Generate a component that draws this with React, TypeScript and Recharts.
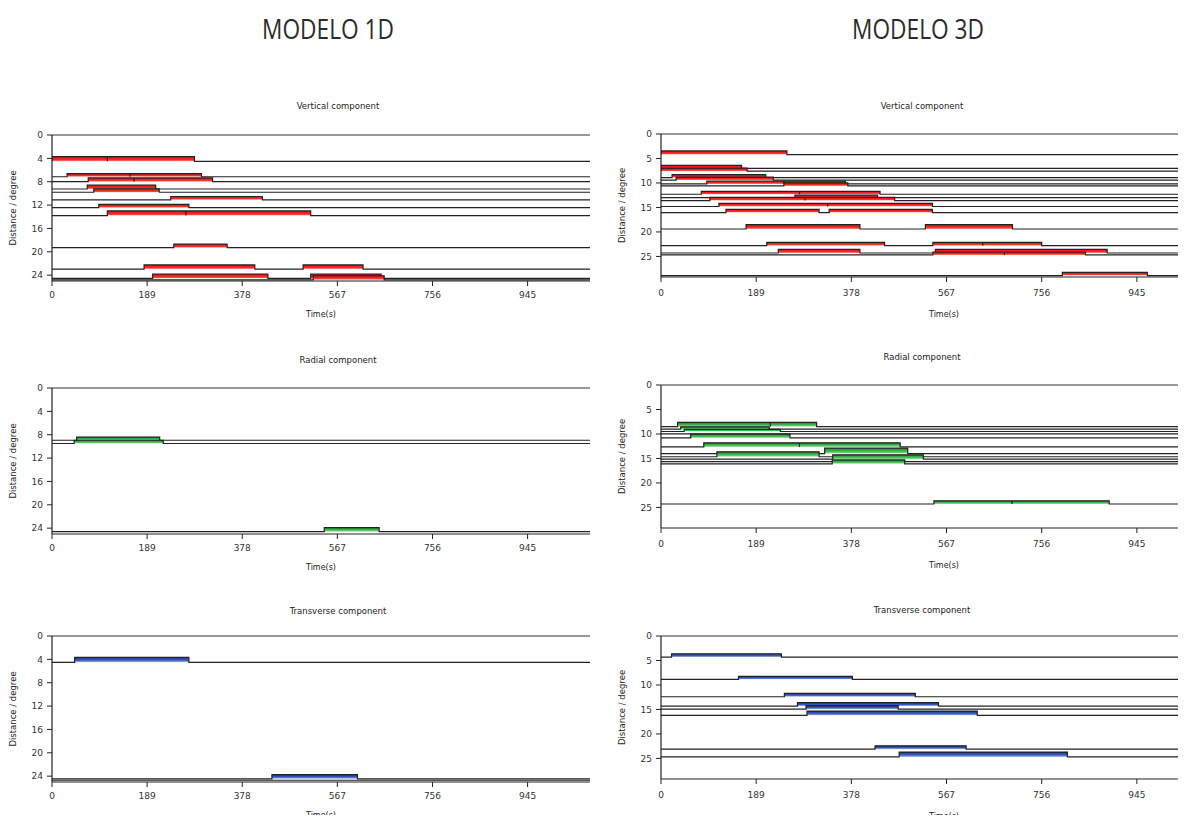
import { ComposedChart, Area, XAxis, YAxis, ReferenceLine } from "recharts";

const FONT = "'DejaVu Sans', Verdana, sans-serif";

const TIME_TICKS = [0, 189, 378, 567, 756, 945];
const DIST_TICKS_1D = [0, 4, 8, 12, 16, 20, 24];
const DIST_TICKS_3D = [0, 5, 10, 15, 20, 25];

// one trace per station: distance (deg) and its pulses [start s, end s, height deg]
type Trace = { d: number; p: number[][] };

const vertical1D: Trace[] = [
  { d: 4.5, p: [[0, 110, 0.8], [110, 283, 0.8]] },
  { d: 7.15, p: [[30, 155, 0.55], [155, 297, 0.55]] },
  { d: 8.0, p: [[72, 163, 0.65], [163, 319, 0.65]] },
  { d: 9.25, p: [[70, 206, 0.65]] },
  { d: 9.8, p: [[83, 213, 0.6]] },
  { d: 11.1, p: [[236, 418, 0.57]] },
  { d: 12.45, p: [[93, 272, 0.57]] },
  { d: 13.8, p: [[110, 266, 0.8], [266, 514, 0.8]] },
  { d: 19.3, p: [[242, 348, 0.6]] },
  { d: 22.95, p: [[183, 403, 0.7], [499, 618, 0.7]] },
  { d: 24.55, p: [[200, 429, 0.75], [514, 654, 0.75]] },
  { d: 24.8, p: [[519, 660, 0.7]] },
];

const vertical3D: Trace[] = [
  { d: 4.2, p: [[0, 250, 0.75]] },
  { d: 7.0, p: [[0, 160, 0.6]] },
  { d: 7.6, p: [[0, 171, 0.65]] },
  { d: 8.9, p: [[22, 208, 0.6]] },
  { d: 9.4, p: [[30, 223, 0.6]] },
  { d: 10.2, p: [[91, 244, 0.6], [244, 366, 0.6]] },
  { d: 10.6, p: [[244, 371, 0.6]] },
  { d: 12.3, p: [[80, 275, 0.6], [275, 435, 0.6]] },
  { d: 13.0, p: [[266, 430, 0.5]] },
  { d: 13.6, p: [[97, 286, 0.65], [286, 464, 0.65]] },
  { d: 14.8, p: [[115, 331, 0.65], [331, 539, 0.65]] },
  { d: 16.05, p: [[129, 314, 0.65], [334, 539, 0.65]] },
  { d: 19.4, p: [[169, 395, 0.9], [525, 698, 0.9]] },
  { d: 22.8, p: [[210, 444, 0.65], [540, 639, 0.65], [639, 756, 0.65]] },
  { d: 24.3, p: [[233, 395, 0.75], [545, 886, 0.75]] },
  { d: 24.7, p: [[540, 682, 0.6], [682, 843, 0.6]] },
  { d: 28.9, p: [[797, 966, 0.65]] },
];

const radial1D: Trace[] = [
  { d: 8.95, p: [[49, 214, 0.55]] },
  { d: 9.5, p: [[44, 221, 0.55]] },
  { d: 24.6, p: [[541, 650, 0.7]] },
];

const radial3D: Trace[] = [
  { d: 8.5, p: [[33, 217, 0.85], [217, 309, 0.85]] },
  { d: 9.0, p: [[39, 215, 0.45]] },
  { d: 9.5, p: [[46, 237, 0.45]] },
  { d: 10.0, p: [] },
  { d: 10.8, p: [[59, 256, 0.75]] },
  { d: 12.65, p: [[85, 275, 0.85], [275, 475, 0.85]] },
  { d: 14.0, p: [[325, 490, 1.1]] },
  { d: 14.65, p: [[111, 314, 1.0]] },
  { d: 15.15, p: [[341, 521, 0.9]] },
  { d: 15.65, p: [] },
  { d: 16.1, p: [[340, 484, 0.8]] },
  { d: 24.3, p: [[542, 697, 0.65], [697, 890, 0.65]] },
];

const transverse1D: Trace[] = [
  { d: 4.5, p: [[45, 272, 0.85]] },
  { d: 24.45, p: [[437, 607, 0.7]] },
  { d: 24.7, p: [] },
];

const transverse3D: Trace[] = [
  { d: 4.3, p: [[21, 239, 0.68]] },
  { d: 8.85, p: [[154, 380, 0.6]] },
  { d: 12.4, p: [[245, 505, 0.68]] },
  { d: 14.3, p: [[271, 551, 0.68]] },
  { d: 14.95, p: [[288, 471, 0.75]] },
  { d: 16.2, p: [[290, 628, 0.88]] },
  { d: 23.1, p: [[425, 606, 0.68]] },
  { d: 24.7, p: [[473, 807, 1.0]] },
];

const REDS = ["#b01010", "#e81a1a", "#f22424", "#f44a40", "#f9b8ac"];
const GREENS = ["#17652a", "#2a9a3c", "#3cb94c", "#6ccc72", "#bfe8bb"];
const BLUES = ["#16245e", "#2a45a0", "#3458bb", "#6f88d4", "#c2cff2"];

const PX_PER_S = 0.5033;

function toPoints(tr: Trace, tMax: number) {
  const pts = [{ t: 0, v: tr.d }];
  tr.p.forEach(([a, b, h]) => {
    pts.push({ t: a, v: tr.d }, { t: a, v: tr.d - h }, { t: b, v: tr.d - h }, { t: b, v: tr.d });
  });
  pts.push({ t: tMax, v: tr.d });
  return pts;
}

interface PanelProps {
  id: string;
  x: number;
  plotTop: number;
  title: string;
  titleX: number;
  titleY: number;
  traces: Trace[];
  colors: string[];
  yMax: number;
  yTicks: number[];
  plotH: number;
  tMax: number;
  axisH: number;
  tickGap: number;
}

function Panel(props: PanelProps) {
  const { id, x, plotTop, title, titleX, titleY, traces, colors, yMax, yTicks, plotH, tMax, axisH, tickGap } = props;
  const plotW = Math.round(tMax * PX_PER_S);
  const gradId = `grad-${id}`;
  return (
    <>
      <div
        style={{
          position: "absolute",
          left: titleX - 100,
          width: 200,
          top: titleY - 7,
          lineHeight: "14px",
          textAlign: "center",
          fontFamily: FONT,
          fontSize: 8.5,
          color: "#222",
        }}
      >
        {title}
      </div>
      <div style={{ position: "absolute", left: x, top: plotTop - 5 }}>
        <ComposedChart
          width={52 + plotW}
          height={5 + plotH + axisH}
          margin={{ top: 5, right: 0, bottom: 0, left: 0 }}
        >
          <defs>
            <linearGradient id={gradId} x1="0" y1="0" x2="0" y2="1">
              <stop offset="0%" stopColor={colors[0]} />
              <stop offset="20%" stopColor={colors[1]} />
              <stop offset="55%" stopColor={colors[2]} />
              <stop offset="80%" stopColor={colors[3]} />
              <stop offset="100%" stopColor={colors[4]} />
            </linearGradient>
          </defs>
          <XAxis
            dataKey="t"
            type="number"
            domain={[0, tMax]}
            ticks={TIME_TICKS}
            allowDataOverflow
            height={axisH}
            tickSize={5}
            tickMargin={tickGap}
            axisLine={{ stroke: "#222", strokeWidth: 1.2 }}
            tickLine={{ stroke: "#222" }}
            tick={{ fontSize: 9, fill: "#333", fontFamily: FONT }}
            label={{
              value: "Time(s)",
              position: "insideBottom",
              offset: 5,
              style: { fontSize: 8, fill: "#222", fontFamily: FONT },
            }}
          />
          <YAxis
            type="number"
            reversed
            domain={[0, yMax]}
            ticks={yTicks}
            allowDataOverflow
            width={52}
            tickSize={5}
            tickMargin={4}
            axisLine={{ stroke: "#222", strokeWidth: 1.2 }}
            tickLine={{ stroke: "#222" }}
            tick={{ fontSize: 9, fill: "#333", fontFamily: FONT }}
            label={{
              value: "Distance / degree",
              angle: -90,
              position: "insideLeft",
              offset: 13,
              style: { fontSize: 8.5, fill: "#222", fontFamily: FONT, textAnchor: "middle" },
            }}
          />
          <ReferenceLine y={0} stroke="#333" strokeWidth={1.2} />
          {traces.map((tr, i) => (
            <Area
              key={i}
              data={toPoints(tr, tMax)}
              dataKey="v"
              type="linear"
              baseValue={tr.d}
              stroke="#222"
              strokeWidth={1.2}
              fill={`url(#${gradId})`}
              fillOpacity={1}
              dot={false}
              activeDot={false}
              isAnimationActive={false}
            />
          ))}
        </ComposedChart>
      </div>
    </>
  );
}

export default function App() {
  const left = { x: 0, titleX: 338, tMax: 1069, yMax: 25, yTicks: DIST_TICKS_1D, plotH: 146, axisH: 41, tickGap: 6 };
  const right = { x: 609, titleX: 922, tMax: 1124, yMax: 29.2, yTicks: DIST_TICKS_3D, plotH: 143, axisH: 45, tickGap: 8 };
  return (
    <div
      style={{
        position: "relative",
        width: 1186,
        height: 823,
        margin: -8,
        overflow: "hidden",
        background: "#fff",
      }}
    >
      <div
        style={{
          position: "absolute",
          left: 178,
          width: 300,
          top: 10,
          textAlign: "center",
          fontFamily: "'Open Sans', sans-serif",
          fontSize: 28,
          lineHeight: "36px",
          color: "#2b2b2b",
          transform: "scaleX(0.81)",
        }}
      >
        MODELO 1D
      </div>
      <div
        style={{
          position: "absolute",
          left: 768,
          width: 300,
          top: 10,
          textAlign: "center",
          fontFamily: "'Open Sans', sans-serif",
          fontSize: 28,
          lineHeight: "36px",
          color: "#2b2b2b",
          transform: "scaleX(0.81)",
        }}
      >
        MODELO 3D
      </div>

      <Panel id="v1" {...left} plotTop={135} titleY={106} title="Vertical component" traces={vertical1D} colors={REDS} />
      <Panel id="r1" {...left} plotTop={388} titleY={360} title="Radial component" traces={radial1D} colors={GREENS} />
      <Panel id="t1" {...left} plotTop={636} titleY={611} title="Transverse component" traces={transverse1D} colors={BLUES} />

      <Panel id="v3" {...right} plotTop={134} titleY={106} title="Vertical component" traces={vertical3D} colors={REDS} />
      <Panel id="r3" {...right} plotTop={385} titleY={357} title="Radial component" traces={radial3D} colors={GREENS} />
      <Panel id="t3" {...right} plotTop={636} titleY={610} title="Transverse component" traces={transverse3D} colors={BLUES} />
    </div>
  );
}
